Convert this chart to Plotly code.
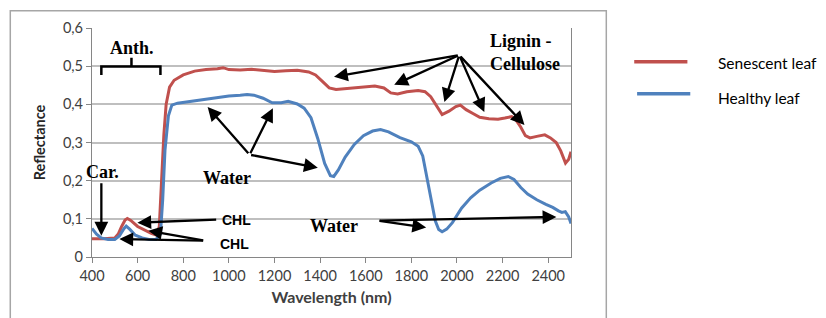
import plotly.graph_objects as go

# ---- data ----
senescent_wl = [400, 450, 500, 515, 530, 545, 555, 570, 600, 630, 660, 685, 695, 705, 715, 725, 740, 760,
                800, 850, 900, 950, 975, 1000, 1050, 1100, 1150, 1200, 1250, 1300, 1350, 1380, 1410, 1440,
                1470, 1520, 1580, 1640, 1680, 1710, 1740, 1780, 1830, 1860, 1885, 1905, 1935, 1965, 1995,
                2015, 2040, 2070, 2100, 2140, 2180, 2210, 2240, 2260, 2280, 2300, 2320, 2350, 2385, 2410,
                2435, 2455, 2476, 2490, 2500]
senescent_r = [0.048, 0.048, 0.050, 0.060, 0.080, 0.097, 0.101, 0.096, 0.080, 0.070, 0.062, 0.057, 0.080,
               0.200, 0.320, 0.400, 0.445, 0.463, 0.477, 0.487, 0.491, 0.493, 0.496, 0.491, 0.490, 0.492,
               0.489, 0.486, 0.488, 0.489, 0.485, 0.477, 0.460, 0.443, 0.439, 0.442, 0.444, 0.448, 0.443,
               0.430, 0.427, 0.433, 0.436, 0.433, 0.420, 0.400, 0.373, 0.382, 0.394, 0.398, 0.386, 0.376,
               0.366, 0.362, 0.361, 0.364, 0.368, 0.358, 0.340, 0.318, 0.312, 0.316, 0.320, 0.312, 0.300,
               0.278, 0.246, 0.256, 0.276]

healthy_wl = [400, 420, 440, 470, 500, 520, 540, 550, 565, 590, 620, 650, 680, 700, 710, 720, 735, 750, 775,
              800, 850, 900, 950, 1000, 1050, 1080, 1110, 1150, 1190, 1230, 1260, 1300, 1330, 1360, 1390,
              1420, 1445, 1460, 1480, 1510, 1550, 1590, 1630, 1665, 1700, 1750, 1800, 1830, 1850, 1872,
              1890, 1905, 1920, 1935, 1955, 1980, 2020, 2060, 2100, 2150, 2190, 2225, 2250, 2280, 2310,
              2350, 2390, 2420, 2445, 2460, 2475, 2490, 2500]
healthy_r = [0.075, 0.060, 0.050, 0.046, 0.046, 0.055, 0.074, 0.081, 0.073, 0.057, 0.050, 0.046, 0.046,
             0.060, 0.150, 0.280, 0.370, 0.398, 0.403, 0.405, 0.409, 0.412, 0.416, 0.422, 0.424, 0.426,
             0.424, 0.416, 0.404, 0.404, 0.408, 0.401, 0.390, 0.365, 0.310, 0.245, 0.213, 0.211, 0.228,
             0.262, 0.295, 0.318, 0.330, 0.334, 0.328, 0.313, 0.302, 0.290, 0.265, 0.200, 0.140, 0.095,
             0.072, 0.066, 0.073, 0.090, 0.128, 0.155, 0.175, 0.194, 0.206, 0.211, 0.203, 0.182, 0.165,
             0.150, 0.138, 0.130, 0.121, 0.117, 0.119, 0.105, 0.088]

series_names = ["Senescent leaf", "Healthy leaf"]
series_colors = ["#c0504d", "#4f81bd"]

x_ticks = [400, 600, 800, 1000, 1200, 1400, 1600, 1800, 2000, 2200, 2400]
y_ticks = [0, 0.1, 0.2, 0.3, 0.4, 0.5, 0.6]
y_tick_labels = ["0", "0,1", "0,2", "0,3", "0,4", "0,5", "0,6"]

fig = go.Figure()
fig.add_trace(go.Scatter(x=senescent_wl, y=senescent_r, mode="lines", name=series_names[0],
                         line=dict(color=series_colors[0], width=3), showlegend=False))
fig.add_trace(go.Scatter(x=healthy_wl, y=healthy_r, mode="lines", name=series_names[1],
                         line=dict(color=series_colors[1], width=3), showlegend=False))

serif_b = dict(family="Liberation Serif", size=18, color="black")
sans_b = dict(family="Liberation Sans", size=14, color="black")

ann = []
def text(x, y, t, font, **kw):
    ann.append(dict(x=x, y=y, xref="x", yref="y", text=t, showarrow=False, font=font,
                    xanchor=kw.get("xanchor", "center"), yanchor="middle", align=kw.get("align", "center")))

def arrow(x_tail, y_tail, x_head, y_head):
    ann.append(dict(x=x_head, y=y_head, ax=x_tail, ay=y_tail, xref="x", yref="y", axref="x", ayref="y",
                    text="", showarrow=True, arrowhead=2, arrowsize=1.2, arrowwidth=2.3,
                    arrowcolor="black", standoff=0, startstandoff=0))

text(576, 0.547, "<b>Anth.</b>", serif_b)
text(445, 0.223, "<b>Car.</b>", serif_b)
text(993, 0.208, "<b>Water</b>", serif_b)
text(1461, 0.080, "<b>Water</b>", serif_b)
text(1033, 0.096, "<b>CHL</b>", sans_b)
text(1025, 0.034, "<b>CHL</b>", sans_b)
text(2137, 0.537, "<b>Lignin -<br>Cellulose</b>", dict(family="Liberation Serif", size=18, color="black"),
     xanchor="left", align="left")

arrow(441, 0.197, 441, 0.056)
arrow(1091, 0.268, 907, 0.393)
arrow(1091, 0.268, 1193, 0.390)
arrow(1091, 0.268, 1390, 0.234)
arrow(951, 0.098, 599, 0.090)
arrow(894, 0.043, 520, 0.047)
arrow(894, 0.043, 647, 0.069)
arrow(1654, 0.095, 1865, 0.077)
arrow(1654, 0.095, 2436, 0.105)
for hx, hy in [(1461, 0.472), (1725, 0.451), (1945, 0.406), (2120, 0.380), (2296, 0.346)]:
    arrow(2010, 0.529, hx, hy)

# legend (drawn manually to match the reference's long line samples)
ann.append(dict(x=1.303, y=0.848, xref="paper", yref="paper", text=series_names[0], showarrow=False,
                xanchor="left", yanchor="middle", font=dict(family="Lato", size=15.5, color="black")))
ann.append(dict(x=1.303, y=0.694, xref="paper", yref="paper", text=series_names[1], showarrow=False,
                xanchor="left", yanchor="middle", font=dict(family="Lato", size=15.5, color="black")))

shapes = [
    # bracket for Anth.
    dict(type="path", xref="x", yref="y",
         path="M 441 0.477 L 441 0.499 L 700 0.499 L 700 0.477 M 573 0.499 L 573 0.522",
         line=dict(color="black", width=2.5)),
    # legend samples
    dict(type="line", xref="paper", yref="paper", x0=1.132, x1=1.243, y0=0.853, y1=0.853,
         line=dict(color=series_colors[0], width=3.5)),
    dict(type="line", xref="paper", yref="paper", x0=1.138, x1=1.249, y0=0.713, y1=0.713,
         line=dict(color=series_colors[1], width=3.5)),
    # outer chart frame
    dict(type="rect", xref="paper", yref="paper", x0=-0.1706, x1=1.0737, y0=-0.35, y1=1.0755,
         line=dict(color="#a6a6a6", width=1.5)),
]

# the page body adds an 8px offset, so the figure is 8px smaller and margins shifted accordingly
fig.update_layout(
    width=818, height=310,
    margin=dict(l=84, r=255, t=20, b=61, autoexpand=False),
    paper_bgcolor="white", plot_bgcolor="white",
    annotations=ann, shapes=shapes,
    font=dict(family="Lato", size=14, color="#404040"),
    xaxis=dict(range=[400, 2500], tickvals=x_ticks, ticks="outside", ticklen=5, tickcolor="#868686",
               showline=True, linecolor="#868686", linewidth=1.2, showgrid=False, zeroline=False,
               automargin=False,
               tickfont=dict(family="Lato", size=14.5, color="#404040"),
               title=dict(text="<b>Wavelength (nm)</b>", font=dict(family="Lato", size=16, color="#404040"),
                          standoff=9)),
    yaxis=dict(range=[0, 0.6], tickvals=y_ticks, ticktext=y_tick_labels, ticks="outside", ticklen=5,
               tickcolor="#868686", showline=True, linecolor="#868686", linewidth=1.2, mirror=True,
               showgrid=True, gridcolor="#bfbfbf", gridwidth=1.5, zeroline=False, automargin=False,
               tickfont=dict(family="Lato", size=14.5, color="#404040"),
               title=dict(text="<b>Reflectance</b>", font=dict(family="Lato", size=14.5, color="#262626"),
                          standoff=13)),
)

fig.write_html("out.html")
